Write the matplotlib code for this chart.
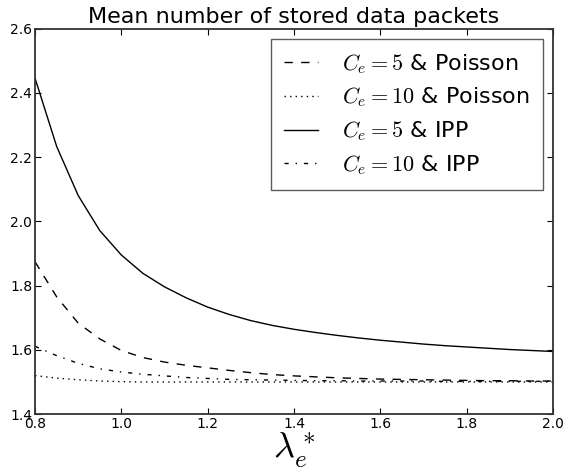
import numpy as np
from matplotlib import pyplot as plt

plt.rcParams['mathtext.fontset'] = 'cm'
plt.rcParams['font.family'] = 'DejaVu Sans'

lam = [0.80, 0.85, 0.90, 0.95, 1.00, 1.05, 1.10, 1.15, 1.20, 1.25, 1.30, 1.35, 1.40,
       1.45, 1.50, 1.55, 1.60, 1.65, 1.70, 1.75, 1.80, 1.85, 1.90, 1.95, 2.00]

c5_poisson = [1.874, 1.765, 1.683, 1.634, 1.598, 1.576, 1.562, 1.552, 1.544, 1.536,
              1.529, 1.523, 1.519, 1.516, 1.513, 1.511, 1.509, 1.508, 1.507, 1.506,
              1.505, 1.504, 1.504, 1.503, 1.503]
c10_poisson = [1.520, 1.512, 1.507, 1.503, 1.501, 1.500, 1.500, 1.500, 1.500, 1.500,
               1.500, 1.500, 1.500, 1.500, 1.500, 1.500, 1.500, 1.500, 1.500, 1.500,
               1.500, 1.500, 1.500, 1.500, 1.500]
c5_ipp = [2.445, 2.233, 2.080, 1.971, 1.895, 1.838, 1.796, 1.762, 1.733, 1.710,
          1.691, 1.676, 1.664, 1.654, 1.645, 1.637, 1.630, 1.624, 1.618, 1.613,
          1.609, 1.605, 1.601, 1.598, 1.595]
c10_ipp = [1.611, 1.582, 1.558, 1.541, 1.531, 1.524, 1.519, 1.514, 1.511, 1.508,
           1.507, 1.506, 1.505, 1.504, 1.504, 1.503, 1.503, 1.503, 1.503, 1.502,
           1.502, 1.502, 1.502, 1.502, 1.502]

fig = plt.figure(figsize=(5.66, 4.76), dpi=100)
ax = fig.add_axes([0.062, 0.130, 0.915, 0.810])

ax.plot(lam, c5_poisson, color='k', lw=1, dashes=(6, 6), label=r'$C_e=5$ & Poisson')
ax.plot(lam, c10_poisson, color='k', lw=1, dashes=(1, 3), label=r'$C_e=10$ & Poisson')
ax.plot(lam, c5_ipp, color='k', lw=1, label=r'$C_e=5$ & IPP')
ax.plot(lam, c10_ipp, color='k', lw=1, dashes=(3, 5, 1, 5), label=r'$C_e=10$ & IPP')

ax.set_xlim(0.8, 2.0)
ax.set_ylim(1.4, 2.6)
ax.set_xticks(np.arange(0.8, 2.01, 0.2))
ax.set_yticks(np.arange(1.4, 2.61, 0.2))
ax.tick_params(direction='in', top=True, right=True, labelsize=10, length=4, pad=2)
for s in ax.spines.values():
    s.set_color('0.2')
    s.set_linewidth(1.3)
ax.set_title('Mean number of stored data packets', fontsize=16, pad=4)
ax.set_xlabel(r'$\lambda_e^*$', fontsize=26, labelpad=0)

leg = ax.legend(loc='upper right', fontsize=16, fancybox=False, handlelength=1.5,
                handletextpad=1.1, borderpad=0.6, borderaxespad=0.45, labelspacing=0.45)
leg.get_frame().set_edgecolor('0.2')
leg.get_frame().set_linewidth(1.0)

fig.savefig('out.png', dpi=100)
